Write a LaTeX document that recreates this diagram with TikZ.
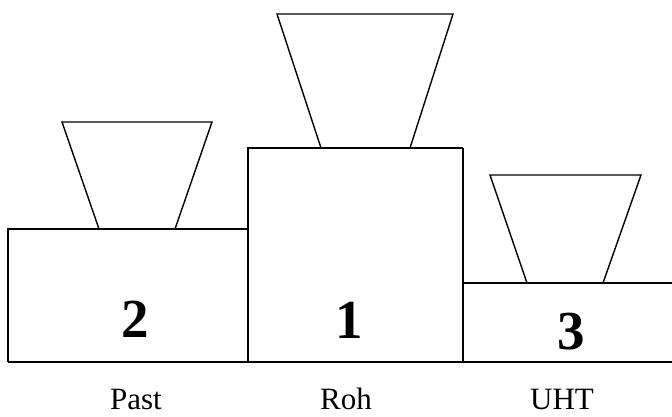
\documentclass[tikz,border=0pt]{standalone}
\usepackage{fontspec}
\setmainfont{Liberation Serif}

\begin{document}
\begin{tikzpicture}
  [
    x=1pt, y=-1pt,
    line width=1.4pt,
    rank/.style  = {font=\fontsize{55}{55}\selectfont\bfseries, inner sep=0pt, anchor=base},
    kind/.style  = {font=\fontsize{31}{31}\selectfont, inner sep=0pt, anchor=base},
  ]

\useasboundingbox (0,0) rectangle (672,417);

%Floor line of the podium
\def \ybot{362}
\def \xfloor{672}

%Steps: left, right, top of step, cup top (left, right, y), cup foot (left, right)
\foreach [count=\i] \xl/\xr/\ytop/\tl/\tr/\ttop/\bl/\br in
  {8/248/229/62/212/122/99/175, 248/463/148/277/453/14/321/410, 463/672/283/490/641/175/527/603}
{
\draw (\xl,\ybot) -- (\xl,\ytop) -- (\xr,\ytop);
\ifnum \i < 3
\draw (\xr,\ytop) -- (\xr,\ybot);
\fi
\draw (\bl,\ytop) -- (\tl,\ttop) -- (\tr,\ttop) -- (\br,\ytop);
}
\draw (8,\ybot) -- (\xfloor,\ybot);

%Ranks and names
\foreach [count=\i] \xr/\yr/\r/\xk/\t in {135/337/2/136/Past, 349/338/1/346/Roh, 571/349/3/562/UHT}
{
\node[rank] (rank\i) at (\xr,\yr) {\r};
\node[kind] (kind\i) at (\xk,409) {\t};
}

\end{tikzpicture}
\end{document}
